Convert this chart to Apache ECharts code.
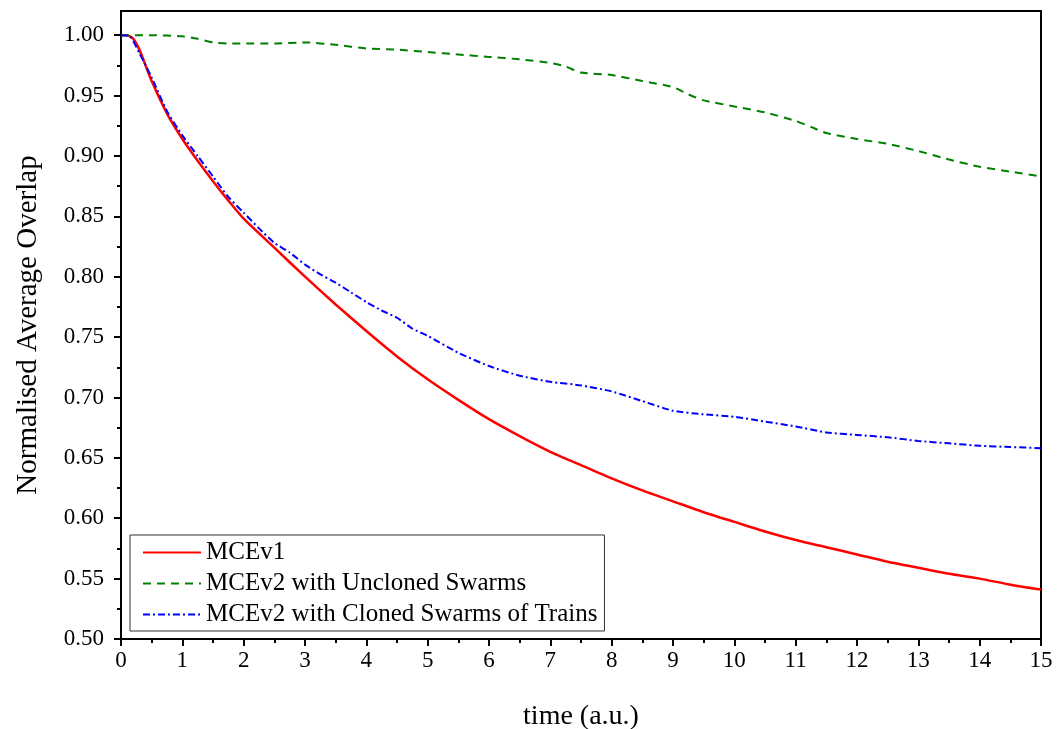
<!DOCTYPE html>
<html>
<head>
<meta charset="utf-8">
<script src="https://cdn.jsdelivr.net/npm/echarts@6/dist/echarts.min.js"></script>
<style>html,body{margin:0;padding:0;background:#fff}#c{width:1058px;height:729px}</style>
</head>
<body>
<div id="c"></div>
<script>
const seriesNames = ['MCEv1', 'MCEv2 with Uncloned Swarms', 'MCEv2 with Cloned Swarms of Trains'];

const redT = [0,0.1,0.2,0.3,0.4,0.5,0.75,1,1.25,1.5,1.75,2,2.5,3,3.5,4,4.5,5,5.5,6,6.5,7,7.5,8,8.5,9,9.5,10,10.5,11,11.5,12,12.5,13,13.5,14,14.5,15];
const redV = [1.000,1.000,0.997,0.988,0.975,0.962,0.935,0.914,0.896,0.879,0.863,0.848,0.824,0.800,0.777,0.755,0.734,0.715,0.698,0.682,0.668,0.655,0.644,0.633,0.623,0.614,0.605,0.597,0.589,0.582,0.576,0.570,0.564,0.559,0.554,0.550,0.545,0.541];

const greenT = [0,0.5,1,1.25,1.5,1.75,2,2.5,3,3.5,4,4.5,5,5.5,6,6.5,7,7.25,7.5,8,8.5,9,9.25,9.5,10,10.5,11,11.25,11.5,12,12.5,13,13.5,14,14.5,15];
const greenV = [1.000,1.000,0.999,0.997,0.994,0.993,0.993,0.993,0.994,0.992,0.989,0.988,0.986,0.984,0.982,0.980,0.977,0.974,0.969,0.967,0.962,0.957,0.951,0.946,0.941,0.936,0.929,0.924,0.919,0.914,0.910,0.904,0.897,0.891,0.887,0.883];

const blueT = [0,0.15,0.3,0.5,0.75,1,1.25,1.5,1.75,2,2.25,2.5,2.75,3,3.25,3.5,3.75,4,4.25,4.5,4.75,5,5.5,6,6.5,7,7.5,8,8.5,9,9.5,10,10.5,11,11.5,12,12.5,13,13.5,14,14.5,15];
const blueV = [1.000,0.999,0.985,0.965,0.937,0.917,0.900,0.883,0.866,0.853,0.840,0.828,0.820,0.810,0.802,0.795,0.787,0.779,0.772,0.766,0.757,0.751,0.737,0.726,0.718,0.713,0.710,0.705,0.697,0.689,0.686,0.684,0.680,0.676,0.671,0.669,0.667,0.664,0.662,0.660,0.659,0.658];

const yMajor = [0.50,0.55,0.60,0.65,0.70,0.75,0.80,0.85,0.90,0.95,1.00];
const yMinor = [0.525,0.575,0.625,0.675,0.725,0.775,0.825,0.875,0.925,0.975];

const FONT = '"Liberation Serif", "Times New Roman", serif';
const pair = (t, v) => t.map((x, i) => [x, v[i]]);

const chart = echarts.init(document.getElementById('c'));
chart.setOption({
  animation: false,
  backgroundColor: '#fff',
  grid: { left: 121, right: 17, top: 11, bottom: 90, show: true, borderColor: '#000', borderWidth: 2,
    backgroundColor: 'transparent', containLabel: false, outerBoundsMode: 'none' },
  legend: {
    orient: 'vertical', left: 130, top: 535,
    padding: [5, 7, 4, 12], itemGap: 6, itemWidth: 58, itemHeight: 14,
    borderColor: '#333', borderWidth: 1, backgroundColor: '#fff',
    itemStyle: { opacity: 0 },
    textStyle: { fontFamily: FONT, fontSize: 25, lineHeight: 24, color: '#000' },
    data: seriesNames
  },
  xAxis: {
    type: 'value', min: 0, max: 15, interval: 1,
    name: 'time (a.u.)', nameLocation: 'middle', nameGap: 64,
    nameTextStyle: { fontFamily: FONT, fontSize: 28, color: '#000' },
    axisLine: { lineStyle: { color: '#000', width: 2 } },
    axisTick: { inside: false, length: 7, lineStyle: { color: '#000', width: 2 } },
    minorTick: { show: true, splitNumber: 2, length: 4, lineStyle: { color: '#000', width: 2 } },
    axisLabel: { fontFamily: FONT, fontSize: 23, color: '#000', margin: 10 },
    splitLine: { show: false }
  },
  yAxis: [{
    type: 'value', min: 0.5, max: 1.02,
    name: 'Normalised Average Overlap', nameLocation: 'middle', nameGap: 78,
    nameTextStyle: { fontFamily: FONT, fontSize: 29, color: '#000' },
    axisLine: { lineStyle: { color: '#000', width: 2 } },
    axisTick: { length: 7, customValues: yMajor, lineStyle: { color: '#000', width: 2 } },
    axisLabel: { fontFamily: FONT, fontSize: 23, color: '#000', margin: 17, customValues: yMajor,
      formatter: v => v.toFixed(2) },
    splitLine: { show: false }
  }, {
    type: 'value', min: 0.5, max: 1.02, position: 'left',
    axisLine: { show: false },
    axisTick: { show: true, length: 4, customValues: yMinor, lineStyle: { color: '#000', width: 2 } },
    axisLabel: { show: false },
    splitLine: { show: false }
  }],
  series: [
    { name: seriesNames[0], type: 'line', data: pair(redT, redV), showSymbol: false, symbol: 'none', smooth: 0.2,
      lineStyle: { color: '#ff0000', width: 2.5 }, itemStyle: { color: '#ff0000' } },
    { name: seriesNames[1], type: 'line', data: pair(greenT, greenV), showSymbol: false, symbol: 'none', smooth: 0.2,
      lineStyle: { color: '#008000', width: 2, type: [8, 6] }, itemStyle: { color: '#008000' } },
    { name: seriesNames[2], type: 'line', data: pair(blueT, blueV), showSymbol: false, symbol: 'none', smooth: 0.2,
      lineStyle: { color: '#0000ff', width: 2, type: [7, 3, 2, 3] }, itemStyle: { color: '#0000ff' } }
  ]
});
</script>
</body>
</html>
